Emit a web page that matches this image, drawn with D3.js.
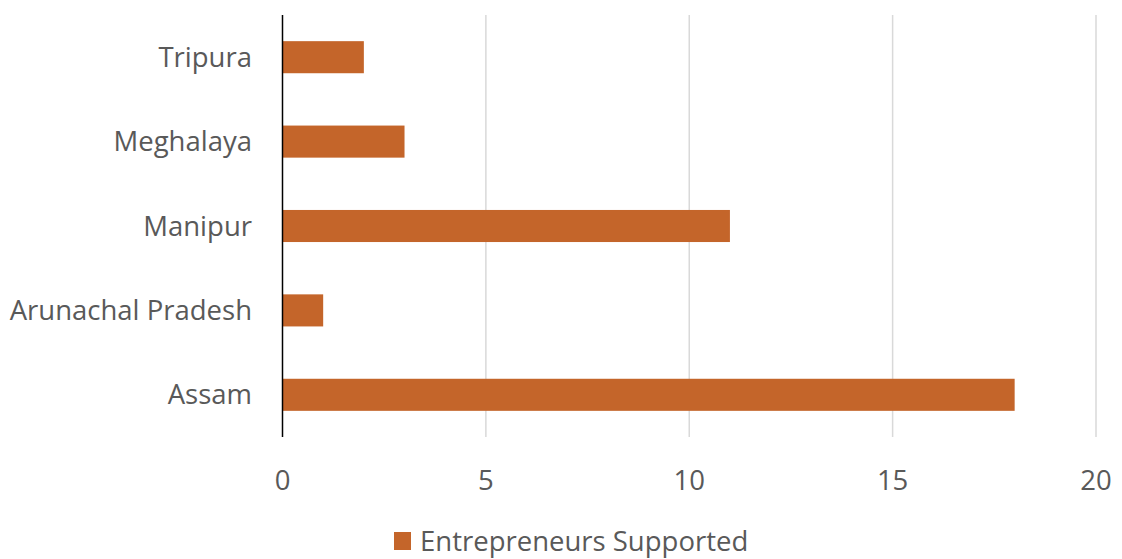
<!DOCTYPE html>
<html>
<head>
<meta charset="utf-8">
<script src="https://cdn.jsdelivr.net/npm/d3@7"></script>
<style>
  body { margin: 0; background: #fff; }
  text { font-family: "Open Sans", sans-serif; fill: #595959; }
</style>
</head>
<body>
<div id="chart"></div>
<script>
// data, top to bottom
var states = ["Tripura", "Meghalaya", "Manipur", "Arunachal Pradesh", "Assam"];
var supported = [2, 3, 11, 1, 18];
var xTicks = [0, 5, 10, 15, 20];
var seriesName = "Entrepreneurs Supported";

var width = 1122, height = 559;
var margin = {left: 282.5, right: 26, top: 15, bottom: 122};
var barColor = "#C4652A";
var fontSize = "27.5px";

var svg = d3.select("#chart").append("svg")
    .attr("width", width)
    .attr("height", height);

var x = d3.scaleLinear()
    .domain([0, 20])
    .range([margin.left, width - margin.right]);

var y = d3.scaleBand()
    .domain(states)
    .range([margin.top, height - margin.bottom])
    .paddingInner(0.62)
    .paddingOuter(0.31);

// gridlines
svg.append("g")
    .selectAll("line")
    .data(xTicks.slice(1))
    .join("line")
    .attr("x1", function (d) { return x(d); })
    .attr("x2", function (d) { return x(d); })
    .attr("y1", margin.top)
    .attr("y2", height - margin.bottom)
    .attr("stroke", "#d9d9d9")
    .attr("stroke-width", 1.5);

// bars
svg.append("g")
    .selectAll("rect")
    .data(states)
    .join("rect")
    .attr("x", x(0))
    .attr("y", function (d) { return y(d); })
    .attr("width", function (d, i) { return x(supported[i]) - x(0); })
    .attr("height", y.bandwidth())
    .attr("fill", barColor);

// y axis line
svg.append("line")
    .attr("x1", x(0)).attr("x2", x(0))
    .attr("y1", margin.top).attr("y2", height - margin.bottom)
    .attr("stroke", "#000")
    .attr("stroke-width", 1.5);

// category labels
svg.append("g")
    .selectAll("text")
    .data(states)
    .join("text")
    .attr("x", 252)
    .attr("y", function (d) { return y(d) + y.bandwidth() / 2; })
    .attr("dy", "0.35em")
    .attr("text-anchor", "end")
    .style("font-size", fontSize)
    .text(function (d) { return d; });

// x tick labels
svg.append("g")
    .selectAll("text")
    .data(xTicks)
    .join("text")
    .attr("x", function (d) { return x(d); })
    .attr("y", 490)
    .attr("text-anchor", "middle")
    .style("font-size", fontSize)
    .text(function (d) { return d; });

// legend
var legend = svg.append("g").attr("transform", "translate(394,532)");
legend.append("rect")
    .attr("width", 17).attr("height", 18)
    .attr("fill", barColor);
legend.append("text")
    .attr("x", 26)
    .attr("y", 9)
    .attr("dy", "0.35em")
    .style("font-size", fontSize)
    .text(seriesName);
</script>
</body>
</html>
